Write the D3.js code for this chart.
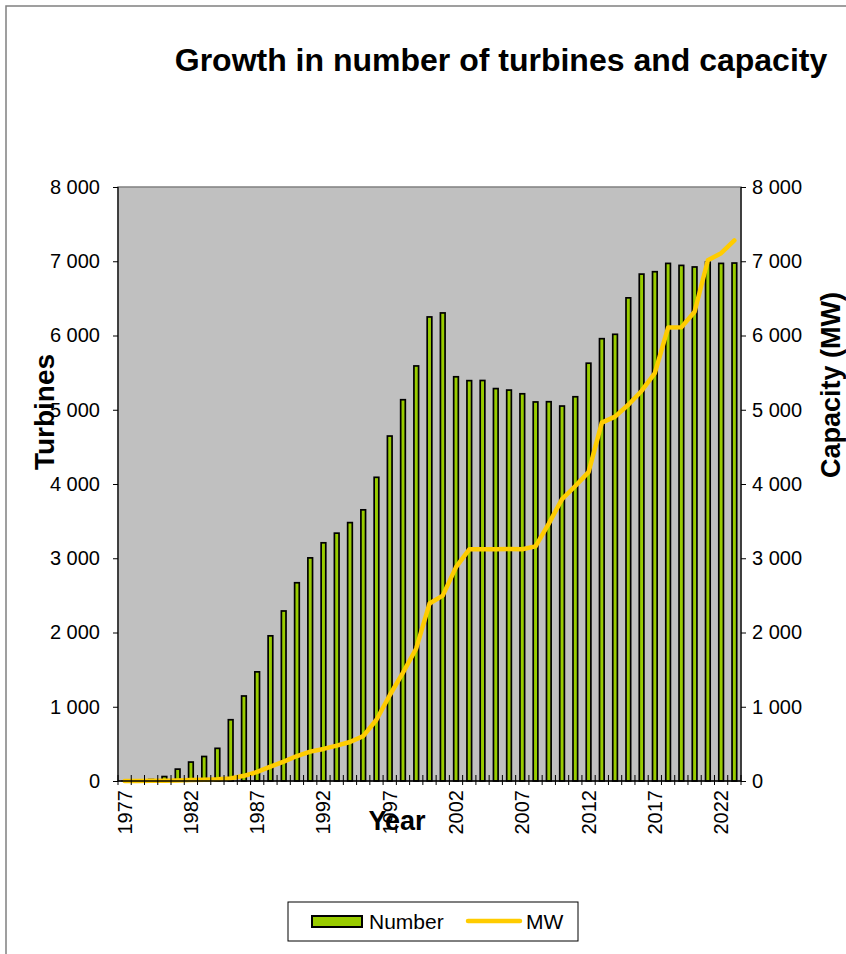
<!DOCTYPE html>
<html>
<head>
<meta charset="utf-8">
<script src="https://cdn.jsdelivr.net/npm/d3@7"></script>
<style>
  html, body { margin: 0; padding: 0; background: #ffffff; }
  svg { display: block; }
  text { font-family: "Liberation Sans", Arial, sans-serif; fill: #000; }
</style>
</head>
<body>
<svg id="chart" width="846" height="954"></svg>
<script>
// Installed wind turbines and total capacity per year
const years = d3.range(1977, 2024);
const turbines = [
  1, 5, 20, 60, 160, 255, 330, 440, 825, 1145,
  1470, 1955, 2290, 2670, 3005, 3208, 3338, 3480, 3652, 4090,
  4646, 5135, 5590, 6250, 6304, 5444, 5392, 5394, 5285, 5265,
  5215, 5105, 5108, 5050, 5175, 5627, 5957, 6016, 6507, 6827,
  6859, 6971, 6944, 6923, 6990, 6971, 6976
];
const capacityMW = [
  0, 1, 3, 5, 8, 12, 16, 22, 35, 70,
  122, 194, 260, 336, 395, 432, 476, 525, 605, 825,
  1155, 1460, 1785, 2390, 2496, 2880, 3120, 3120, 3122, 3124,
  3122, 3160, 3467, 3797, 3973, 4160, 4827, 4907, 5067, 5253,
  5493, 6107, 6110, 6320, 7013, 7109, 7280
];
const yTicks = [0, 1000, 2000, 3000, 4000, 5000, 6000, 7000, 8000];
const yearLabels = years.filter((y, i) => i % 5 === 0);

const title = "Growth in number of turbines and capacity";
const leftTitle = "Turbines";
const rightTitle = "Capacity (MW)";
const xTitle = "Year";
const seriesNames = ["Number", "MW"];

const barColor = "#99cc00";
const lineColor = "#ffcc00";

const fmt = d3.formatLocale({ decimal: ".", thousands: " ", grouping: [3], currency: ["", ""] }).format(",");

const svg = d3.select("#chart");

// outer chart frame
svg.append("rect")
  .attr("x", 6).attr("y", 6).attr("width", 1000).attr("height", 1000)
  .attr("fill", "none").attr("stroke", "#808080").attr("stroke-width", 1.5);

const plot = { left: 118, right: 741, top: 187, bottom: 781 };

const x = d3.scaleBand().domain(years).range([plot.left, plot.right]).padding(0);
const yL = d3.scaleLinear().domain([0, 8000]).range([plot.bottom, plot.top]);
const yR = d3.scaleLinear().domain([0, 8000]).range([plot.bottom, plot.top]);

// plot area
svg.append("rect")
  .attr("x", plot.left).attr("y", plot.top)
  .attr("width", plot.right - plot.left).attr("height", plot.bottom - plot.top)
  .attr("fill", "#c0c0c0").attr("stroke", "#808080").attr("stroke-width", 1.5);

// bars
const barW = x.bandwidth() * 0.35;
svg.append("g").selectAll("rect")
  .data(years.map((yr, i) => ({ yr, v: turbines[i] })))
  .join("rect")
  .attr("x", d => x(d.yr) + (x.bandwidth() - barW) / 2)
  .attr("y", d => yL(d.v))
  .attr("width", barW)
  .attr("height", d => plot.bottom - yL(d.v))
  .attr("fill", barColor)
  .attr("stroke", "#000")
  .attr("stroke-width", 1.7);

// capacity line
const line = d3.line()
  .x((d, i) => x(years[i]) + x.bandwidth() / 2)
  .y(d => yR(d));
svg.append("path")
  .datum(capacityMW)
  .attr("d", line)
  .attr("fill", "none")
  .attr("stroke", lineColor)
  .attr("stroke-width", 4.5)
  .attr("stroke-linejoin", "round")
  .attr("stroke-linecap", "round");

// left axis
const gL = svg.append("g").attr("transform", `translate(${plot.left},0)`)
  .call(d3.axisLeft(yL).tickValues(yTicks).tickFormat(fmt).tickSize(5).tickPadding(13));
gL.select(".domain").attr("stroke", "#222").attr("stroke-width", 1.5).attr("d", `M0,${plot.top}V${plot.bottom}`);
gL.selectAll(".tick line").attr("stroke", "#000");
gL.selectAll(".tick text").style("font-size", "20px").style("font-family", "'Liberation Sans', Arial, sans-serif");

// right axis
const gR = svg.append("g").attr("transform", `translate(${plot.right},0)`)
  .call(d3.axisRight(yR).tickValues(yTicks).tickFormat(fmt).tickSize(5).tickPadding(6));
gR.select(".domain").attr("stroke", "#222").attr("stroke-width", 1.5).attr("d", `M0,${plot.top}V${plot.bottom}`);
gR.selectAll(".tick line").attr("stroke", "#000");
gR.selectAll(".tick text").style("font-size", "20px").style("font-family", "'Liberation Sans', Arial, sans-serif");

// x axis: crossing ticks at band edges, rotated year labels every five years
const gX = svg.append("g").attr("transform", `translate(0,${plot.bottom})`);
gX.append("line")
  .attr("x1", plot.left).attr("x2", plot.right)
  .attr("stroke", "#000").attr("stroke-width", 1.5);
gX.selectAll("line.tk")
  .data(years.concat([years[years.length - 1] + 1]))
  .join("line")
  .attr("class", "tk")
  .attr("x1", (d, i) => plot.left + i * x.step())
  .attr("x2", (d, i) => plot.left + i * x.step())
  .attr("y1", -6).attr("y2", 4)
  .attr("stroke", "#000").attr("stroke-width", 1);
gX.selectAll("text")
  .data(yearLabels)
  .join("text")
  .attr("transform", d => `translate(${x(d) + x.bandwidth() / 2 + 7},9) rotate(-90)`)
  .attr("text-anchor", "end")
  .style("font-size", "20px")
  .text(d => d);

// titles
svg.append("text")
  .attr("x", 501).attr("y", 71)
  .attr("text-anchor", "middle")
  .style("font-size", "32px").style("font-weight", "bold")
  .text(title);

svg.append("text")
  .attr("transform", "translate(54,412) rotate(-90)")
  .attr("text-anchor", "middle")
  .style("font-size", "28px").style("font-weight", "bold")
  .text(leftTitle);

svg.append("text")
  .attr("transform", "translate(840,385) rotate(-90)")
  .attr("text-anchor", "middle")
  .style("font-size", "27px").style("font-weight", "bold")
  .text(rightTitle);

svg.append("text")
  .attr("x", 397).attr("y", 830)
  .attr("text-anchor", "middle")
  .style("font-size", "27px").style("font-weight", "bold")
  .text(xTitle);

// legend
const lg = svg.append("g");
lg.append("rect")
  .attr("x", 288).attr("y", 902).attr("width", 290).attr("height", 39)
  .attr("fill", "#fff").attr("stroke", "#000").attr("stroke-width", 1);
lg.append("rect")
  .attr("x", 312).attr("y", 916).attr("width", 50).attr("height", 11)
  .attr("fill", barColor).attr("stroke", "#000").attr("stroke-width", 2);
lg.append("text")
  .attr("x", 369).attr("y", 929)
  .style("font-size", "21px")
  .text(seriesNames[0]);
lg.append("line")
  .attr("x1", 468).attr("x2", 520).attr("y1", 921).attr("y2", 921)
  .attr("stroke", lineColor).attr("stroke-width", 4.5).attr("stroke-linecap", "round");
lg.append("text")
  .attr("x", 526).attr("y", 929)
  .style("font-size", "21px")
  .text(seriesNames[1]);
</script>
</body>
</html>
